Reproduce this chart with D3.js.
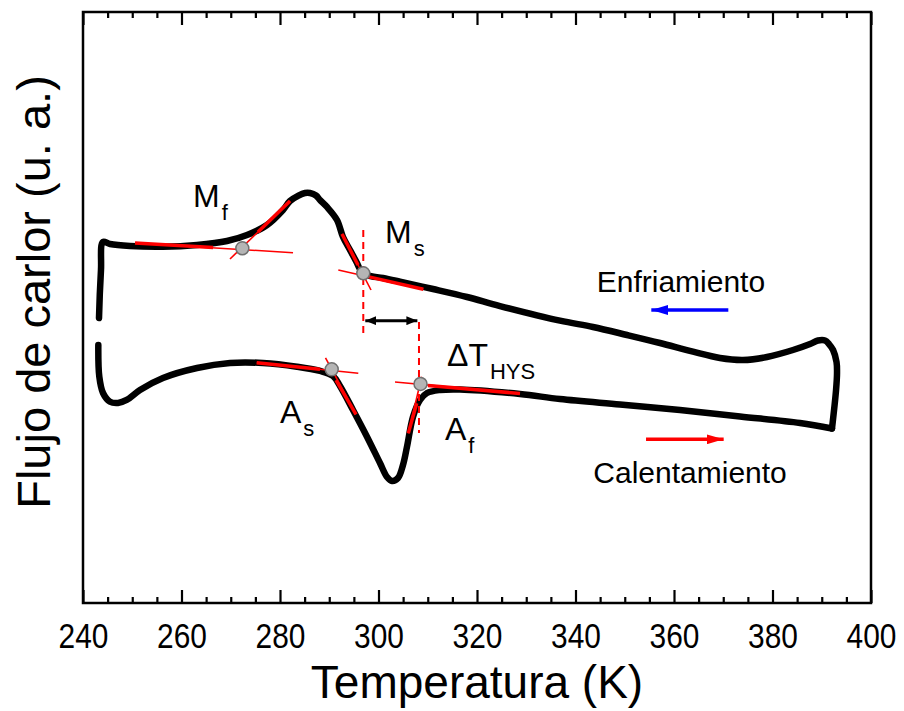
<!DOCTYPE html>
<html>
<head>
<meta charset="utf-8">
<script src="https://cdn.jsdelivr.net/npm/d3@7"></script>
<style>
  body { margin: 0; background: #fff; }
  svg { display: block; font-family: "Liberation Sans", Arial, sans-serif; }
</style>
</head>
<body>
<svg id="chart"></svg>
<script>
// DSC trace, [temperature (K), heat flow (a.u.)]
const heating = [
  [243.11, 4.365], [243.31, 3.829], [244.06, 3.553], [245.48, 3.406], [247.11, 3.384],
  [248.87, 3.435], [251.57, 3.604], [256.24, 3.807], [263.15, 3.976], [269.85, 4.061],
  [276.55, 4.061], [283.45, 3.998], [288.12, 3.926], [290.76, 3.841], [292.18, 3.672],
  [294.82, 3.266], [297.66, 2.814], [300.30, 2.369], [301.73, 2.132], [302.74, 2.064],
  [303.96, 2.115], [304.97, 2.335], [305.79, 2.645], [307.01, 3.152], [308.43, 3.435],
  [309.85, 3.553], [312.49, 3.604], [316.55, 3.613], [328.73, 3.536], [336.85, 3.452],
  [349.04, 3.359], [361.22, 3.266], [373.40, 3.156], [385.58, 3.046], [392.08, 2.953]
];

const cooling = [
  [392.08, 2.953], [392.90, 3.600], [393.10, 3.892], [393.00, 4.078], [392.30, 4.281],
  [391.47, 4.382], [390.66, 4.442], [389.24, 4.442], [387.62, 4.382],
  [384.16, 4.281], [378.88, 4.162], [374.01, 4.112], [369.34, 4.146],
  [363.86, 4.252], [357.16, 4.399], [350.46, 4.535], [343.55, 4.670], [336.85, 4.777],
  [324.67, 5.025], [317.97, 5.178], [311.07, 5.313], [304.37, 5.437], [300.91, 5.499],
  [297.66, 5.550], [296.24, 5.651], [295.63, 5.753], [294.21, 5.973], [292.79, 6.193],
  [291.57, 6.481], [289.54, 6.701], [288.12, 6.819], [287.31, 6.895], [286.09, 6.937],
  [285.08, 6.937], [283.65, 6.887], [282.03, 6.802], [280.61, 6.650], [277.36, 6.396],
  [273.30, 6.227], [269.24, 6.125], [263.15, 6.058], [256.24, 6.029], [249.54, 6.041],
  [245.48, 6.074], [244.06, 6.108], [243.65, 5.635], [243.25, 4.822]
];

// transformation temperatures (tangent intersections)
const onsets = [
  { name: "Mf", T: 272.35, v: 6.002 },
  { name: "Ms", T: 296.91, v: 5.579 },
  { name: "As", T: 290.50, v: 3.954 },
  { name: "Af", T: 308.53, v: 3.706 }
];

// tangent construction: full thin line and the fitted stretch along the trace
const tangents = [
  { line: [[250.56, 6.091], [282.64, 5.927]], fit: [[250.56, 6.091], [266.40, 6.015]] },
  { line: [[269.85, 5.821], [282.03, 6.802]], fit: [[275.53, 6.277], [282.03, 6.802]] },
  { line: [[292.59, 6.244], [298.48, 5.296]], fit: [[292.59, 6.244], [295.84, 5.719]] },
  { line: [[291.84, 5.635], [309.10, 5.308]], fit: [[297.60, 5.526], [309.10, 5.308]] },
  { line: [[275.27, 4.066], [295.90, 3.887]], fit: [[275.27, 4.066], [288.12, 3.954]] },
  { line: [[289.24, 4.146], [295.43, 3.190]], fit: [[291.37, 3.773], [295.43, 3.190]] },
  { line: [[303.35, 3.739], [328.73, 3.545]], fit: [[310.05, 3.680], [328.73, 3.545]] },
  { line: [[308.77, 3.829], [306.05, 2.871]], fit: [[307.76, 3.379], [306.05, 2.871]] }
];

// dashed guides at Ms and Af, and the hysteresis width between them
const guides = [
  { T: 296.91, v0: 6.311, v1: 4.535 },
  { T: 308.22, v0: 4.755, v1: 2.876 }
];
const hysteresis = { T0: 296.91, T1: 308.30, v: 4.777 };

const phaseLabels = [
  { main: "M", sub: "f", T: 262.34, v: 6.701 },
  { main: "M", sub: "s", T: 301.32, v: 6.086 },
  { main: "A", sub: "s", T: 280.00, v: 3.041 },
  { main: "A", sub: "f", T: 313.50, v: 2.758 },
  { main: "\u0394T", sub: "HYS", T: 313.91, v: 4.006 }
];

const directions = [
  { text: "Enfriamiento", T: 344.31, v: 5.267, from: 371.03, to: 353.77, av: 4.958, color: "#0000ff" },
  { text: "Calentamiento", T: 343.62, v: 2.025, from: 354.32, to: 371.71, av: 2.770, color: "#ff0000" }
];

const tempDomain = [240, 400];
const flowDomain = [0, 10];

const config = {
  width: 904,
  height: 711,
  margin: { top: 12, right: 33, bottom: 108, left: 83 }
};

const svg = d3.select("#chart")
  .attr("width", config.width)
  .attr("height", config.height);

const innerW = config.width - config.margin.left - config.margin.right;
const innerH = config.height - config.margin.top - config.margin.bottom;

const chart = svg.append("g")
  .attr("transform", `translate(${config.margin.left},${config.margin.top})`);

const xScale = d3.scaleLinear().domain(tempDomain).range([0, innerW]);
const yScale = d3.scaleLinear().domain(flowDomain).range([innerH, 0]);

// markers
const defs = svg.append("defs");
function arrowHead(id, color, len, half) {
  defs.append("marker")
    .attr("id", id)
    .attr("markerUnits", "userSpaceOnUse")
    .attr("markerWidth", len)
    .attr("markerHeight", half * 2)
    .attr("refX", len)
    .attr("refY", half)
    .attr("orient", "auto-start-reverse")
    .append("path")
    .attr("d", `M0,0L${len},${half}L0,${half * 2}Z`)
    .attr("fill", color);
}
arrowHead("head-blue", "#0000ff", 17, 5);
arrowHead("head-red", "#ff0000", 17, 5);
arrowHead("head-black", "#000", 11, 4.5);

// axes: major + minor ticks pointing inward, top mirrored without labels
const majorTicks = d3.range(240, 401, 20);
const minorTicks = d3.range(240, 401, 5).filter((d) => d % 20 !== 0);

const xAxis = d3.axisBottom(xScale).tickValues(majorTicks).tickSize(-13).tickPadding(19).tickFormat(d3.format("d"));
const xMinor = d3.axisBottom(xScale).tickValues(minorTicks).tickSize(-6).tickFormat("");
const xTop = d3.axisTop(xScale).tickValues(majorTicks).tickSize(-13).tickFormat("");
const xTopMinor = d3.axisTop(xScale).tickValues(minorTicks).tickSize(-6).tickFormat("");

function styleAxis(g) {
  g.select(".domain").remove();
  g.selectAll(".tick line").attr("stroke", "#000").attr("stroke-width", 2.2);
  g.selectAll(".tick text")
    .attr("fill", "#000")
    .attr("transform", "scale(0.83,1)")
    .style("font-size", "36px")
    .style("font-family", "'Liberation Sans', Arial, sans-serif");
}

chart.append("g").attr("transform", `translate(0,${innerH})`).call(xAxis).call(styleAxis);
chart.append("g").attr("transform", `translate(0,${innerH})`).call(xMinor).call(styleAxis);
chart.append("g").call(xTop).call(styleAxis);
chart.append("g").call(xTopMinor).call(styleAxis);

chart.append("rect")
  .attr("width", innerW)
  .attr("height", innerH)
  .attr("fill", "none")
  .attr("stroke", "#000")
  .attr("stroke-width", 2.5);

// axis titles
svg.append("text")
  .attr("x", config.margin.left + innerW / 2)
  .attr("y", 698)
  .attr("text-anchor", "middle")
  .style("font-size", "46px")
  .text("Temperatura (K)");

svg.append("text")
  .attr("transform", "translate(50,292) rotate(-90)")
  .attr("text-anchor", "middle")
  .style("font-size", "47px")
  .text("Flujo de carlor (u. a.)");

// trace
const line = d3.line()
  .x((d) => xScale(d[0]))
  .y((d) => yScale(d[1]))
  .curve(d3.curveCatmullRom.alpha(0.5));

chart.selectAll(".trace")
  .data([heating, cooling])
  .join("path")
  .attr("class", "trace")
  .attr("fill", "none")
  .attr("stroke", "#000")
  .attr("stroke-width", 6.5)
  .attr("stroke-linecap", "round")
  .attr("stroke-linejoin", "round")
  .attr("d", line);

// tangents
const segment = d3.line().x((d) => xScale(d[0])).y((d) => yScale(d[1]));

chart.selectAll(".tangent")
  .data(tangents)
  .join("path")
  .attr("class", "tangent")
  .attr("fill", "none")
  .attr("stroke", "#ff0000")
  .attr("stroke-width", 1.6)
  .attr("d", (d) => segment(d.line));

chart.selectAll(".fit")
  .data(tangents)
  .join("path")
  .attr("class", "fit")
  .attr("fill", "none")
  .attr("stroke", "#ff0000")
  .attr("stroke-width", 3.5)
  .attr("d", (d) => segment(d.fit));

chart.selectAll(".guide")
  .data(guides)
  .join("line")
  .attr("class", "guide")
  .attr("x1", (d) => xScale(d.T))
  .attr("x2", (d) => xScale(d.T))
  .attr("y1", (d) => yScale(d.v0))
  .attr("y2", (d) => yScale(d.v1))
  .attr("stroke", "#ff0000")
  .attr("stroke-width", 2)
  .attr("stroke-dasharray", "7,5");

chart.append("line")
  .attr("x1", xScale(hysteresis.T0) + 2)
  .attr("x2", xScale(hysteresis.T1) - 2)
  .attr("y1", yScale(hysteresis.v))
  .attr("y2", yScale(hysteresis.v))
  .attr("stroke", "#000")
  .attr("stroke-width", 3)
  .attr("marker-start", "url(#head-black)")
  .attr("marker-end", "url(#head-black)");

chart.selectAll(".onset")
  .data(onsets)
  .join("circle")
  .attr("class", "onset")
  .attr("cx", (d) => xScale(d.T))
  .attr("cy", (d) => yScale(d.v))
  .attr("r", 6.5)
  .attr("fill", "#b5b5b5")
  .attr("stroke", "#707070")
  .attr("stroke-width", 1.5);

// labels
const lab = chart.selectAll(".phase-label")
  .data(phaseLabels)
  .join("text")
  .attr("class", "phase-label")
  .attr("x", (d) => xScale(d.T))
  .attr("y", (d) => yScale(d.v))
  .style("font-size", "32px");
lab.append("tspan").text((d) => d.main);
lab.append("tspan")
  .attr("dx", 2)
  .attr("dy", 13)
  .style("font-size", "22px")
  .text((d) => d.sub);

chart.selectAll(".dir-label")
  .data(directions)
  .join("text")
  .attr("class", "dir-label")
  .attr("x", (d) => xScale(d.T))
  .attr("y", (d) => yScale(d.v))
  .style("font-size", "30px")
  .text((d) => d.text);

chart.selectAll(".dir-arrow")
  .data(directions)
  .join("line")
  .attr("class", "dir-arrow")
  .attr("x1", (d) => xScale(d.from))
  .attr("x2", (d) => xScale(d.to) + (d.to < d.from ? 8 : -8))
  .attr("y1", (d) => yScale(d.av))
  .attr("y2", (d) => yScale(d.av))
  .attr("stroke", (d) => d.color)
  .attr("stroke-width", 3.5)
  .attr("marker-end", (d) => (d.color === "#0000ff" ? "url(#head-blue)" : "url(#head-red)"));
</script>
</body>
</html>
